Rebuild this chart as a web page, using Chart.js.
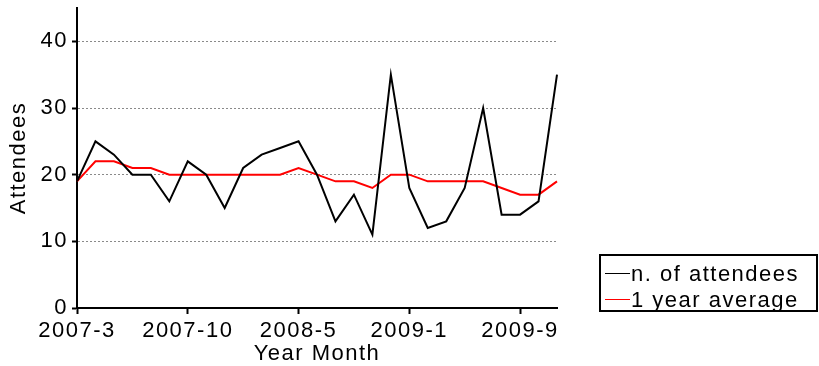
<!DOCTYPE html>
<html>
<head>
<meta charset="utf-8">
<script src="https://cdn.jsdelivr.net/npm/chart.js@4.4.0/dist/chart.umd.min.js"></script>
<style>
  html, body { margin: 0; padding: 0; background: #fff; }
</style>
</head>
<body>
<canvas id="myChart" width="819" height="366"></canvas>
<script>
// meetings, one point each (some months have no meeting)
const months = [
  '2007-3', '2007-4', '2007-5', '2007-6', '2007-7', '2007-9',
  '2007-10', '2007-11', '2007-12', '2008-1', '2008-2', '2008-3',
  '2008-5', '2008-6', '2008-7', '2008-9', '2008-10', '2008-11',
  '2009-1', '2009-2', '2009-3', '2009-4', '2009-5', '2009-7',
  '2009-9', '2009-10', '2009-11'
];
const attendees = [19, 25, 23, 20, 20, 16, 22, 20, 15, 21, 23, 24, 25, 20, 13, 17, 11, 35, 18, 12, 13, 18, 30, 14, 14, 16, 35];
const yearAverage = [19, 22, 22, 21, 21, 20, 20, 20, 20, 20, 20, 20, 21, 20, 19, 19, 18, 20, 20, 19, 19, 19, 19, 18, 17, 17, 19];
const yTicks = [0, 10, 20, 30, 40];
const labelEvery = 6;

const font = { family: 'Liberation Sans', size: 22 };

// the reference font sits a bit wider than Arial metrics
const spacing = {
  id: 'spacing',
  beforeLayout(chart) { chart.ctx.letterSpacing = '1.5px'; },
  beforeDraw(chart) { chart.ctx.letterSpacing = '1.5px'; }
};

// boxed legend below-right of the plot
const boxLegend = {
  id: 'boxLegend',
  afterDraw(chart) {
    const ctx = chart.ctx;
    ctx.save();
    ctx.letterSpacing = '1.5px';
    ctx.strokeStyle = '#000';
    ctx.lineWidth = 2;
    ctx.strokeRect(600, 255, 217, 56);
    ctx.font = '22px "Liberation Sans"';
    ctx.textBaseline = 'middle';
    ctx.fillStyle = '#000';
    chart.data.datasets.forEach((ds, i) => {
      const y = 273.5 + i * 26;
      ctx.strokeStyle = ds.borderColor;
      ctx.lineWidth = 1;
      ctx.beginPath();
      ctx.moveTo(605, y);
      ctx.lineTo(630, y);
      ctx.stroke();
      ctx.fillText(ds.label, 631, y + 1.5);
    });
    ctx.restore();
  }
};

new Chart(document.getElementById('myChart').getContext('2d'), {
  type: 'line',
  data: {
    labels: months,
    datasets: [
      { label: 'n. of attendees', data: attendees, borderColor: '#000', borderWidth: 2 },
      { label: '1 year average', data: yearAverage, borderColor: '#ff0000', borderWidth: 2 }
    ]
  },
  options: {
    responsive: false,
    animation: false,
    layout: { padding: { top: 8, right: 262, left: 0, bottom: 0 } },
    plugins: { legend: { display: false }, tooltip: { enabled: false } },
    elements: { point: { radius: 0 }, line: { tension: 0, fill: false } },
    scales: {
      x: {
        offset: false,
        grid: {
          drawOnChartArea: false,
          tickLength: 6,
          tickWidth: 2,
          tickColor: (c) => (c.index % labelEvery === 0 ? '#000' : 'rgba(0,0,0,0)')
        },
        border: { color: '#000', width: 2 },
        ticks: {
          autoSkip: false,
          maxRotation: 0,
          color: '#000',
          font: font,
          padding: 4,
          callback: function (v, i) { return i % labelEvery === 0 ? this.getLabelForValue(v) : ''; }
        },
        title: { display: true, text: 'Year Month', color: '#000', font: font, padding: { top: -1, bottom: -1 } },
        afterFit: (s) => { s.height = 58; s.paddingLeft = 0; s.paddingRight = 0; }
      },
      y: {
        min: 0,
        max: 45,
        afterBuildTicks: (s) => { s.ticks = yTicks.map((v) => ({ value: v })); },
        grid: {
          color: (c) => (c.tick && c.tick.value === 0 ? 'rgba(0,0,0,0)' : '#8a8a8a'),
          lineWidth: 1,
          tickLength: 5,
          tickWidth: 2,
          tickColor: '#000'
        },
        border: { color: '#000', width: 2, dash: [2, 2] },
        ticks: { color: '#000', font: font, padding: 4 },
        title: { display: true, text: 'Attendees', color: '#000', font: font, padding: { top: 6, bottom: 6 } },
        afterFit: (s) => { s.width = 77; s.paddingTop = 0; s.paddingBottom = 0; }
      }
    }
  },
  plugins: [spacing, boxLegend]
});
</script>
</body>
</html>
